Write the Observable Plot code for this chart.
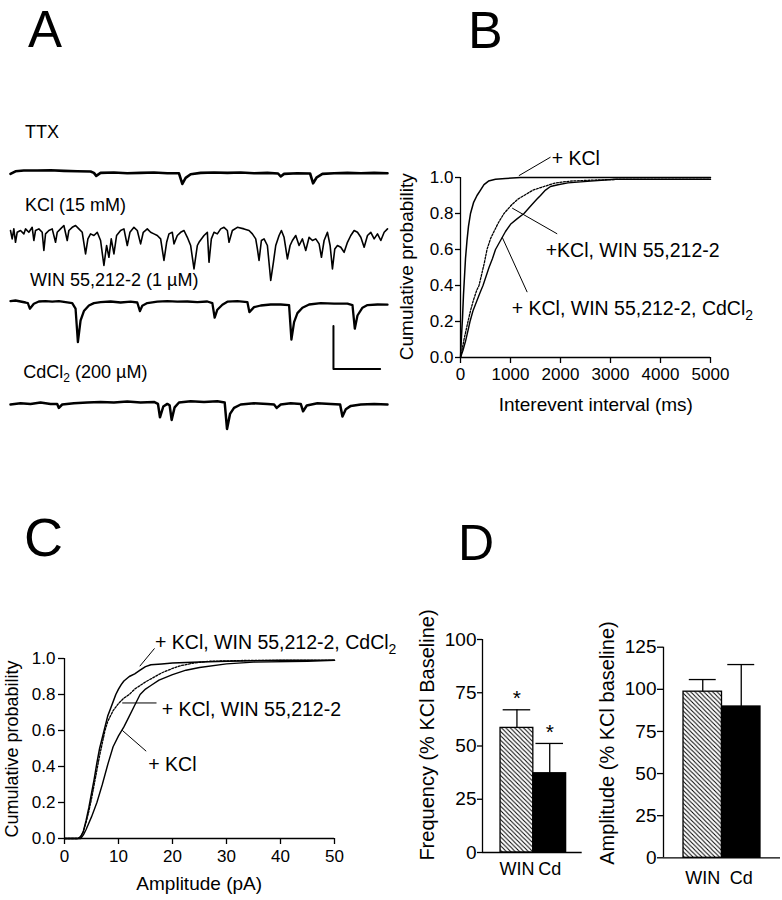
<!DOCTYPE html>
<html>
<head>
<meta charset="utf-8">
<script src="https://cdn.jsdelivr.net/npm/d3@7"></script>
<script src="https://cdn.jsdelivr.net/npm/@observablehq/plot@0.6"></script>
<style>
html,body{margin:0;padding:0;background:#fff;}
#fig{position:relative;width:782px;height:900px;overflow:hidden;background:#fff;}
</style>
</head>
<body>
<div id="fig"></div>
<script>
// ---------- DATA ----------
// Panel A traces: [time (ms), current (pA)] relative to each trace's baseline
const ttxTrace = [[0,-0.5],[15,0.8],[40,1.2],[80,1.2],[120,1.3],[160,1],[200,0.8],[240,0.7],[250,0],[257,-1.5],[270,0],[310,0.2],[350,-0.2],[390,0],[430,0.2],[470,-0.2],[505,-0.2],[515,-5.5],[525,-2.5],[540,-0.7],[570,0],[610,0.2],[650,0],[690,0.2],[730,-0.2],[770,0],[802,-0.3],[810,-1.8],[820,-0.5],[860,-0.2],[898,-0.3],[907,-5.2],[918,-2.2],[935,-0.5],[970,-0.2],[1010,0],[1050,-0.2],[1090,0],[1130,-0.2]];
const kclTrace = [[0,-0.8],[5,-5],[10,0],[15,-6.7],[20,-1.7],[30,-0.8],[40,-2.5],[45,0],[55,-1.7],[65,0.8],[70,-5.8],[75,-0.8],[85,0],[95,-1.7],[100,-10.8],[105,-2.5],[115,-0.8],[125,0],[135,-6.7],[140,-1.7],[150,0],[160,1.7],[170,-5.8],[175,-0.8],[185,0.8],[195,1.7],[205,0],[215,-1.7],[225,-12.5],[232,-5],[240,-2.5],[250,-3.3],[260,-1.7],[270,-5.8],[280,-18.3],[288,-8.3],[295,-14.2],[302,-5],[310,-12.5],[318,-3.3],[330,-0.8],[340,0],[350,-8.3],[358,-1.7],[370,0.8],[380,-0.8],[390,-7.5],[398,-1.7],[410,0],[420,-1.7],[430,-2.5],[440,-3.3],[450,-5],[460,-15.8],[468,-6.7],[475,-2.5],[485,-1.7],[490,-7.5],[500,-3.3],[510,-1.7],[520,-0.8],[530,-4.2],[540,-8.3],[550,-20],[560,-8.3],[565,-6.7],[580,-3.3],[590,-1.7],[595,-16.7],[602,-5],[610,-1.7],[620,-2.5],[630,0],[640,0.8],[650,-0.8],[655,-6.7],[665,-0.8],[680,0.8],[700,0],[715,-0.8],[725,-2.5],[735,-5],[740,-10],[745,-15.8],[752,-5.8],[760,-5],[770,-8.3],[780,-25.8],[788,-16.7],[795,-8.3],[805,-3.3],[812,-0.8],[820,-4.2],[830,-15],[838,-8.3],[845,-5.8],[855,-3.3],[865,-8.3],[875,-5],[885,-10.8],[895,-4.2],[905,-5.8],[915,-5],[925,-7.5],[932,-14.2],[940,-5.8],[950,-1.7],[958,-8.3],[965,-20],[972,-10],[980,-8.3],[990,-9.2],[1000,-11.7],[1010,-6.7],[1020,-3.3],[1030,-0.8],[1040,-1.7],[1050,-4.2],[1060,-9.2],[1070,-3.3],[1080,-1.7],[1090,-5],[1100,-2.5],[1110,-5.8],[1120,-1.7],[1130,0]];
const winTrace = [[0,0.5],[15,0.8],[30,0.3],[45,-0.2],[52,-0.5],[58,-3.3],[70,-0.8],[85,0.3],[105,0.5],[125,0.2],[145,0.5],[165,0],[185,-0.5],[195,-3.3],[202,-20],[210,-9.2],[220,-4.5],[235,-1.7],[250,-0.5],[270,0],[300,0.3],[330,-0.2],[360,0.2],[380,-0.2],[388,-4.5],[395,-1.8],[410,-0.5],[440,0.2],[470,0.5],[500,0.2],[530,0.3],[560,0],[590,0.3],[605,-0.5],[612,-7.8],[620,-3.8],[635,-1.3],[650,0.2],[680,0.5],[710,0],[716,-5],[730,-2.5],[750,-1.7],[780,-1.2],[810,-1.2],[835,-1.5],[842,-18.8],[850,-10],[860,-5.5],[875,-2.8],[895,-1.2],[930,-0.5],[970,-0.8],[1010,-0.8],[1025,-1.5],[1032,-13.3],[1040,-6.7],[1055,-2.8],[1070,-1.5],[1100,-1.2],[1130,-1.3]];
const cdTrace = [[0,-0.3],[30,0.3],[60,0],[90,0.7],[120,0],[140,0],[145,-2],[155,-0.3],[190,0.3],[230,0.7],[270,1],[310,0.7],[350,1.2],[390,0.7],[430,1],[442,0],[448,-6.7],[458,-1.3],[470,0],[477,-0.7],[483,-8],[492,-1.7],[505,0.7],[540,1.3],[580,1],[620,1.3],[642,0.7],[649,-12.5],[658,-5],[670,-2],[690,-0.3],[730,0.3],[770,0],[790,-0.3],[798,-2],[810,-0.3],[840,0.3],[870,0],[877,-3.7],[888,-0.8],[920,0.3],[960,0],[988,-0.3],[995,-6.3],[1005,-2.7],[1020,-1],[1050,-0.3],[1090,0],[1130,-0.3]];
const scaleBarPA = 21.5;
const scaleBarMs = 140;

// Panel B: cumulative probability of interevent interval [ms, probability]
const bKcl = [[0,0],[20,0.12],[40,0.22],[60,0.35],[80,0.45],[100,0.55],[130,0.65],[160,0.73],[200,0.8],[260,0.86],[330,0.9],[400,0.93],[470,0.96],[560,0.98],[700,0.99],[900,0.995],[1200,1.0],[5000,1.0]];
const bWin = [[0,0],[30,0.04],[70,0.1],[110,0.15],[150,0.2],[200,0.26],[260,0.32],[320,0.37],[370,0.4],[430,0.47],[480,0.53],[530,0.6],[600,0.66],[670,0.7],[760,0.75],[870,0.8],[1030,0.85],[1150,0.88],[1270,0.9],[1450,0.93],[1670,0.95],[1900,0.97],[2200,0.98],[2600,0.985],[3200,0.99],[5000,0.99]];
const bCd = [[0,0],[50,0.04],[100,0.09],[150,0.15],[190,0.2],[250,0.26],[320,0.31],[390,0.36],[450,0.4],[510,0.45],[570,0.5],[640,0.55],[700,0.6],[800,0.65],[900,0.7],[1000,0.74],[1130,0.77],[1270,0.8],[1430,0.85],[1530,0.88],[1600,0.9],[1700,0.93],[1800,0.95],[1950,0.96],[2150,0.97],[2600,0.98],[3100,0.99],[5000,0.99]];
const bTicksX = [0,1000,2000,3000,4000,5000];
const probTicks = [0,0.2,0.4,0.6,0.8,1.0];

// Panel C: cumulative probability of amplitude [pA, probability]
const cKcl = [[0,0],[3,0],[3.5,0.02],[4,0.05],[5,0.12],[6,0.2],[7,0.3],[8,0.41],[9,0.51],[10,0.57],[11,0.62],[12,0.68],[13,0.74],[14,0.8],[15,0.83],[16,0.85],[17.5,0.88],[20,0.91],[22.5,0.935],[25,0.95],[30,0.97],[35,0.98],[45,0.985],[50,0.99]];
const cWin = [[0,0],[2.5,0],[3,0.01],[3.5,0.04],[4,0.09],[4.5,0.15],[5,0.22],[5.5,0.3],[6,0.38],[6.5,0.46],[7,0.53],[7.5,0.6],[8,0.65],[8.5,0.68],[9,0.71],[10,0.75],[11,0.78],[12,0.8],[13,0.83],[14,0.85],[15,0.87],[16.5,0.895],[18,0.92],[20,0.945],[21.5,0.96],[24,0.975],[27,0.985],[35,0.99],[50,0.99]];
const cCd = [[0,0],[2.5,0],[3,0.01],[3.5,0.04],[4,0.1],[4.5,0.17],[5,0.25],[5.5,0.33],[6,0.42],[6.5,0.5],[7,0.56],[7.5,0.62],[8,0.68],[8.5,0.72],[9,0.76],[9.5,0.8],[10,0.83],[10.5,0.855],[11,0.875],[12,0.9],[13,0.915],[14,0.935],[15,0.955],[16,0.965],[18,0.97],[20,0.975],[25,0.98],[30,0.985],[40,0.99],[50,0.99]];
const cTicksX = [0,10,20,30,40,50];

// Panel D: bar charts
const dCats = ["WIN", "Cd"];
const freqMean = [58.5, 37.2];
const freqSem = [8.5, 14.0];
const freqSig = [true, true];
const ampMean = [98.6, 89.8];
const ampSem = [7.2, 24.9];
const ampSig = [false, false];
const freqTicks = [0,25,50,75,100];
const ampTicks = [0,25,50,75,100,125];

// ---------- LAYOUT ----------
const FONT = "'Liberation Sans', Arial, Helvetica, sans-serif";
const fig = document.getElementById("fig");
const st = fs => ({background: "none", fontFamily: FONT, fontSize: fs + "px", color: "black", overflow: "visible"});
function place(svg, left, top) {
  Object.assign(svg.style, {position: "absolute", left: left + "px", top: top + "px", maxWidth: "none"});
  fig.appendChild(svg);
}
const px = d => d[0], py = d => d[1];

// ---- Panel A ----
const off = {ttx: -86.2, kcl: -114.2, win: -150.8, cd: -201.7};
const sbCorner = [968, -184.2];
const plotA = Plot.plot({
  width: 400, height: 440, marginLeft: 10, marginRight: 13, marginTop: 0, marginBottom: 0,
  x: {domain: [0, 1130], axis: null}, y: {domain: [-220, 0], axis: null},
  style: st(18),
  marks: [
    Plot.line(ttxTrace, {x: px, y: d => d[1] + off.ttx, strokeWidth: 2.6, strokeLinejoin: "round"}),
    Plot.line(kclTrace, {x: px, y: d => d[1] + off.kcl, strokeWidth: 1.6, strokeLinejoin: "round"}),
    Plot.line(winTrace, {x: px, y: d => d[1] + off.win, strokeWidth: 2.3, strokeLinejoin: "round"}),
    Plot.line(cdTrace, {x: px, y: d => d[1] + off.cd, strokeWidth: 2.5, strokeLinejoin: "round"}),
    Plot.line([[sbCorner[0], sbCorner[1] + scaleBarPA], sbCorner, [sbCorner[0] + scaleBarMs, sbCorner[1]]],
      {x: px, y: py, strokeWidth: 2})
  ]
});
place(plotA, 0, 0);

// ---- Panel B ----
const bLeaders = [
  {x1: 1167, y1: 1.01, x2: 1800, y2: 1.113},
  {x1: 1034, y1: 0.83, x2: 1934, y2: 0.687},
  {x1: 834, y1: 0.668, x2: 1334, y2: 0.363}
];
const plotB = Plot.plot({
  width: 400, height: 290, marginLeft: 80, marginRight: 70, marginTop: 37, marginBottom: 73,
  x: {domain: [0, 5000]}, y: {domain: [0, 1]},
  style: st(17),
  marks: [
    Plot.ruleX([0], {strokeWidth: 1.3}),
    Plot.ruleY([0], {strokeWidth: 1.3}),
    Plot.axisY({ticks: probTicks, tickFormat: d3.format(".1f"), tickSize: 5, tickPadding: 2, label: null, strokeWidth: 1.3}),
    Plot.axisX({ticks: bTicksX, tickFormat: d3.format("d"), tickSize: 6, tickPadding: 4, label: null, strokeWidth: 1.3}),
    Plot.line(bCd, {x: px, y: py, strokeWidth: 1.4}),
    Plot.line(bWin, {x: px, y: py, strokeWidth: 1.3, strokeDasharray: "2,1.5"}),
    Plot.line(bKcl, {x: px, y: py, strokeWidth: 1.5}),
    Plot.link(bLeaders, {x1: "x1", y1: "y1", x2: "x2", y2: "y2", strokeWidth: 1})
  ]
});
place(plotB, 380, 140);

// ---- Panel C ----
const cLeaders = [
  {x1: 13.94, y1: 0.957, x2: 16.67, y2: 1.056},
  {x1: 10.69, y1: 0.753, x2: 17.04, y2: 0.753},
  {x1: 10.69, y1: 0.601, x2: 15.13, y2: 0.485}
];
const plotC = Plot.plot({
  width: 400, height: 280, marginLeft: 64, marginRight: 66, marginTop: 38, marginBottom: 62,
  x: {domain: [0, 50]}, y: {domain: [0, 1]},
  style: st(17),
  marks: [
    Plot.ruleX([0], {strokeWidth: 1.3}),
    Plot.ruleY([0], {strokeWidth: 1.3}),
    Plot.axisY({ticks: probTicks, tickFormat: d3.format(".1f"), tickSize: 6, tickPadding: 3, label: null, strokeWidth: 1.3}),
    Plot.axisX({ticks: cTicksX, tickFormat: d3.format("d"), tickSize: 6, tickPadding: 5, label: null, strokeWidth: 1.3}),
    Plot.line(cKcl, {x: px, y: py, strokeWidth: 1.4}),
    Plot.line(cWin, {x: px, y: py, strokeWidth: 1.3, strokeDasharray: "2,1.5"}),
    Plot.line(cCd, {x: px, y: py, strokeWidth: 1.5}),
    Plot.link(cLeaders, {x1: "x1", y1: "y1", x2: "x2", y2: "y2", strokeWidth: 1})
  ]
});
place(plotC, 0, 620);

// ---- Panel D ----
function addHatch(svg, id) {
  const ns = "http://www.w3.org/2000/svg";
  const defs = document.createElementNS(ns, "defs");
  const pat = document.createElementNS(ns, "pattern");
  pat.setAttribute("id", id);
  pat.setAttribute("patternUnits", "userSpaceOnUse");
  pat.setAttribute("width", "4.4");
  pat.setAttribute("height", "4.4");
  const bg = document.createElementNS(ns, "rect");
  bg.setAttribute("width", "4.4"); bg.setAttribute("height", "4.4"); bg.setAttribute("fill", "white");
  const p = document.createElementNS(ns, "path");
  p.setAttribute("d", "M0,0L4.4,4.4M-1,3.4L1,5.4M3.4,-1L5.4,1");
  p.setAttribute("stroke", "black");
  p.setAttribute("stroke-width", "1");
  pat.appendChild(bg); pat.appendChild(p); defs.appendChild(pat);
  svg.insertBefore(defs, svg.firstChild);
}
function barPanel(means, sems, sig, ticks, yMax, cfg) {
  const rows = dCats.map((c, i) => ({i, cat: c, mean: means[i], sem: sems[i], sig: sig[i]}));
  const cap = cfg.cap;
  const svg = Plot.plot({
    width: cfg.w, height: 300, marginLeft: cfg.ml, marginRight: cfg.mr, marginTop: cfg.mt, marginBottom: cfg.mb,
    x: {domain: cfg.xd}, y: {domain: [0, yMax]},
    style: st(19),
    marks: [
      Plot.rectY(rows.filter(d => d.i === 0), {x1: d => d.i, x2: d => d.i + 1, y: "mean", fill: `url(#${cfg.hid})`, stroke: "black", strokeWidth: 1.3}),
      Plot.rectY(rows.filter(d => d.i === 1), {x1: d => d.i, x2: d => d.i + 1, y: "mean", fill: "black", stroke: "black", strokeWidth: 1.3}),
      Plot.ruleX(rows, {x: d => d.i + 0.5, y1: "mean", y2: d => d.mean + d.sem, strokeWidth: 1.3}),
      Plot.ruleY(rows, {y: d => d.mean + d.sem, x1: d => d.i + 0.5 - cap, x2: d => d.i + 0.5 + cap, strokeWidth: 1.3}),
      Plot.text(rows.filter(d => d.sig), {x: d => d.i + 0.5, y: d => d.mean + d.sem, text: () => "*", dy: -11.5, fontSize: 21}),
      Plot.ruleX([cfg.xd[0]], {strokeWidth: 1.3}),
      Plot.ruleY([0], {strokeWidth: 1.3}),
      Plot.axisY({ticks, tickSize: cfg.ts, tickPadding: 1, label: null, strokeWidth: 1.3}),
      Plot.axisX({ticks: [0.5, 1.5], tickFormat: d => dCats[Math.floor(d)], tickSize: 0, tickPadding: cfg.xp, label: null, fontSize: 18})
    ]
  });
  addHatch(svg, cfg.hid);
  return svg;
}
const plotD1 = barPanel(freqMean, freqSem, freqSig, freqTicks, 100,
  {w: 190, ml: 82, mr: 8.3, mt: 39, mb: 48, xd: [-0.55, 2.49], cap: 0.42, ts: 5, xp: 9.5, hid: "hatchF"});
place(plotD1, 400, 600);
const plotD2 = barPanel(ampMean, ampSem, ampSig, ampTicks, 125,
  {w: 192, ml: 73, mr: 2, mt: 46.7, mb: 42.7, xd: [-0.52, 2.52], cap: 0.35, ts: 6, xp: 13.5, hid: "hatchA"});
place(plotD2, 590, 600);

// ---- Text overlay ----
const sub = (s, dy) => `<tspan dy="${dy}" font-size="${s}">2</tspan>`;
const texts = [
  {x: 28, y: 46.5, s: 51, h: "A"},
  {x: 468, y: 48.3, s: 52, h: "B"},
  {x: 24, y: 555.5, s: 54, h: "C"},
  {x: 458, y: 560, s: 50, h: "D"},
  {x: 25, y: 138.3, s: 18, h: "TTX"},
  {x: 25, y: 210.5, s: 18, h: "KCl (15 mM)"},
  {x: 30, y: 285.5, s: 18, h: "WIN 55,212-2 (1 µM)"},
  {x: 23.3, y: 378, s: 18, h: "CdCl" + sub(12, 4) + `<tspan dy="-4"> (200 µM)</tspan>`},
  {x: 551.7, y: 165, s: 19.5, h: "+ KCl"},
  {x: 545.7, y: 257.3, s: 19.5, h: "+KCl, WIN 55,212-2"},
  {x: 511.7, y: 315, s: 19.5, h: "+ KCl, WIN 55,212-2, CdCl" + sub(14, 5)},
  {x: 595.8, y: 411, s: 19, h: "Interevent interval (ms)", a: "middle"},
  {x: 413.3, y: 266.7, s: 19, h: "Cumulative probability", a: "middle", r: true},
  {x: 155, y: 649, s: 19.5, h: "+ KCl, WIN 55,212-2, CdCl" + sub(14, 5)},
  {x: 161.7, y: 716, s: 19.5, h: "+ KCl, WIN 55,212-2"},
  {x: 148.3, y: 770.7, s: 19.5, h: "+ KCl"},
  {x: 199.2, y: 890, s: 19, h: "Amplitude (pA)", a: "middle"},
  {x: 18, y: 749, s: 18, h: "Cumulative probability", a: "middle", r: true},
  {x: 433.6, y: 735, s: 20, h: "Frequency (% KCl Baseline)", a: "middle", r: true},
  {x: 613.6, y: 743, s: 20, h: "Amplitude (% KCl baseline)", a: "middle", r: true}
];
const overlay = `<svg xmlns="http://www.w3.org/2000/svg" width="782" height="900" style="position:absolute;left:0;top:0;pointer-events:none" font-family="${FONT.replace(/"/g, "")}" fill="black">` +
  texts.map(t => `<text x="${t.x}" y="${t.y}" font-size="${t.s}"${t.a ? ` text-anchor="${t.a}"` : ""}${t.r ? ` transform="rotate(-90 ${t.x} ${t.y})"` : ""}>${t.h}</text>`).join("") +
  `</svg>`;
fig.insertAdjacentHTML("beforeend", overlay);
</script>
</body>
</html>
